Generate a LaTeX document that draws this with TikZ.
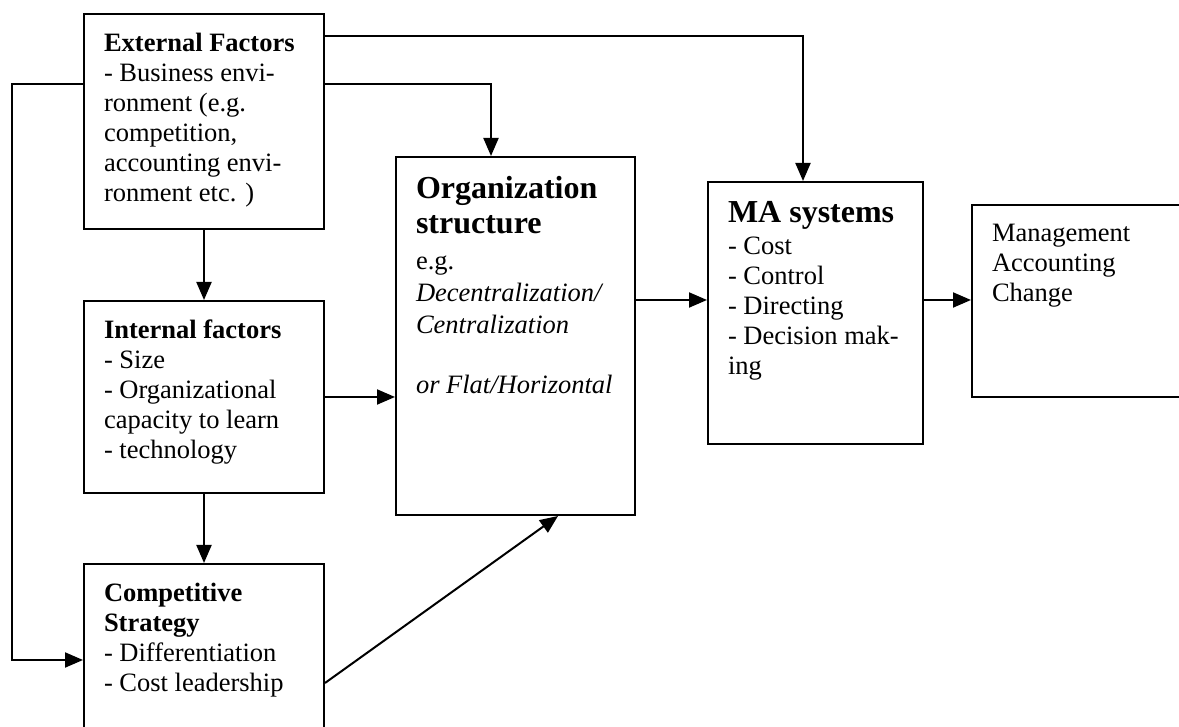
\documentclass[tikz,border=0pt]{standalone}
\usepackage{fontspec}
\setmainfont{Liberation Serif}
\usetikzlibrary{arrows.meta}
\newcommand{\boxbody}[3]{\parbox[t][#1][t]{#2}{\raggedright #3}}
\newcommand{\bigttl}[1]{{\fontsize{32}{36}\selectfont\bfseries #1}}

\begin{document}
\begin{tikzpicture}[x=1pt,y=1pt,
  blk/.style={draw,line width=2pt,anchor=north west,inner xsep=20pt,inner ysep=19pt,
    font=\fontsize{26.5}{30}\selectfont},
  con/.style={line width=2pt,-{Triangle[length=18pt,width=15pt]}}]
\useasboundingbox (0,0) rectangle (1179,727);

% boxes
\node[blk] (ext) at (83,714) {\boxbody{177pt}{200pt}{\textbf{External Factors}\\- Business envi-\\ronment (e.g.\\competition,\\accounting envi-\\ronment etc. )}};
\node[blk] (int) at (83,427) {\boxbody{154pt}{200pt}{\textbf{Internal factors}\\- Size\\- Organizational\\capacity to learn\\- technology}};
\node[blk] (comp) at (83,164) {\boxbody{162pt}{200pt}{\textbf{Competitive}\\\textbf{Strategy}\\- Differentiation\\- Cost leadership}};
\node[blk] (org) at (395,571) {\boxbody{320pt}{199pt}{\bigttl{Organization}\\[5pt]\bigttl{structure}\\[6pt]e.g.\\[2pt]\textit{Decentralization/}\\[2pt]\textit{Centralization}\\[30pt]\textit{or Flat/Horizontal}}};
\node[blk] (ma) at (707,546) {\boxbody{224pt}{175pt}{\bigttl{MA systems}\\[2pt]- Cost\\- Control\\- Directing\\- Decision mak-\\ing}};
\node[blk] (mac) at (971,523) {\boxbody{154pt}{190pt}{Management\\Accounting\\Change}};

% connectors
\draw[con] ([yshift=-23pt]ext.north east) -| ([xshift=96pt]ma.north west);
\draw[con] ([yshift=-71pt]ext.north east) -| ([xshift=96pt]org.north west);
\draw[con] ([yshift=-71pt]ext.north west) -- ++(-71,0) |- ([yshift=-97pt]comp.north west);
\draw[con] (ext.south) -- (int.north);
\draw[con] (int.south) -- (comp.north);
\draw[con] (int.east) -- (int.east -| org.west);
\draw[con] ([yshift=-120pt]comp.north east) -- ([xshift=163pt]org.south west);
\coordinate (mid) at ([yshift=-144pt]org.north east);
\draw[con] (mid) -- (mid -| ma.west);
\draw[con] (mid -| ma.east) -- (mid -| mac.west);
\end{tikzpicture}
\end{document}
